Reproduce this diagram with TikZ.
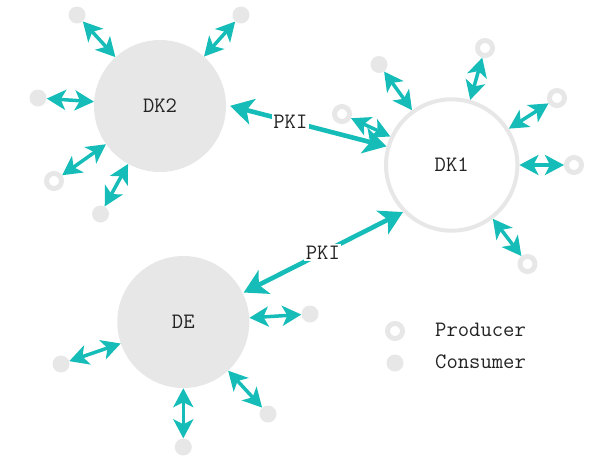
\documentclass[tikz,border=0pt]{standalone}
\usetikzlibrary{arrows.meta}
\definecolor{hub}{RGB}{231,231,231}
\definecolor{link}{RGB}{22,189,184}
\definecolor{ink}{RGB}{35,35,35}
\begin{document}
\begin{tikzpicture}[x=1pt,y=-1pt,
  txt/.style={font=\ttfamily\fontsize{22}{22}\selectfont, text=ink},
  hubfill/.style={circle, fill=hub, minimum size=132pt, inner sep=0pt, txt},
  hubring/.style={circle, draw=hub, line width=4pt, fill=white, minimum size=131.4pt, inner sep=0pt, txt},
  consumer/.style={circle, fill=hub, minimum size=17pt, inner sep=0pt},
  producer/.style={circle, draw=hub, line width=5pt, minimum size=15pt, inner sep=0pt},
  pair/.style={draw=link, line width=3.5pt, {Stealth[length=19pt,width=20pt,inset=5pt]}-{Stealth[length=19pt,width=20pt,inset=5pt]}},
  pki/.style={draw=link, line width=4.6pt, {Stealth[length=23pt,width=26pt,inset=6pt]}-{Stealth[length=23pt,width=26pt,inset=6pt]}},
  pkilabel/.style={txt, fill=white, inner sep=1.5pt}
]
\useasboundingbox (0,0) rectangle (595,456);

% hubs
\node[hubfill] (dk2) at (160,106) {DK2};
\node[hubring] (dk1) at (451.7,165) {DK1};
\node[hubfill] (de) at (183.3,322) {DE};

% clients of DK2
\node[consumer] (c21) at (77,15) {};
\node[consumer] (c22) at (241,15) {};
\node[consumer] (c23) at (38,98) {};
\node[producer] (p21) at (54,181) {};
\node[consumer] (c24) at (100.5,214) {};

% clients of DK1
\node[consumer] (c11) at (379,64.5) {};
\node[producer] (p11) at (485,48) {};
\node[producer] (p12) at (557,98) {};
\node[producer] (p13) at (574,165) {};
\node[producer] (p14) at (527.5,264) {};
\node[producer] (p15) at (342,114) {};

% clients of DE
\node[consumer] (c31) at (310,314) {};
\node[consumer] (c32) at (61,364) {};
\node[consumer] (c33) at (183.3,447) {};
\node[consumer] (c34) at (268,414) {};

% client links
\foreach \c/\h in {c21/dk2,c22/dk2,c23/dk2,p21/dk2,c24/dk2,
                   c11/dk1,p11/dk1,p12/dk1,p13/dk1,p14/dk1,p15/dk1,
                   c31/de,c32/de,c33/de,c34/de}
  \draw[pair] (\c) -- (\h);

% hub links
\draw[pki, shorten <=4pt] (dk2.1) -- node[pos=.4, pkilabel] {PKI} (dk1.164);
\draw[pki, shorten <=1pt] (de.26.5) -- node[pos=.5, pkilabel] {PKI} (dk1.224);

% legend
\node[producer] (lp) at (395,331) {};
\node[consumer] (lc) at (395,363) {};
\node[txt, anchor=west, inner sep=0pt] (lpt) at (435,330) {Producer};
\node[txt, anchor=west, inner sep=0pt] (lct) at (435,362) {Consumer};
\end{tikzpicture}
\end{document}
